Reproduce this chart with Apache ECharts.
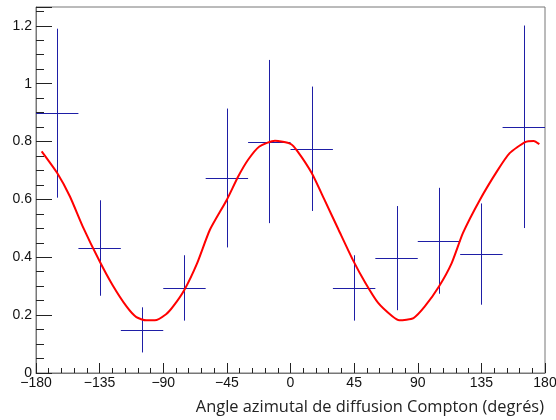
<!DOCTYPE html>
<html>
<head>
<meta charset="utf-8">
<script src="https://cdn.jsdelivr.net/npm/echarts@6/dist/echarts.min.js"></script>
<style>
  html, body { margin: 0; padding: 0; background: #fff; }
  #chart { width: 556px; height: 420px; }
</style>
</head>
<body>
<div id="chart"></div>
<script>
// centres des bins (degrés) et contenu mesuré
const binCenters = [-165, -135, -105, -75, -45, -15, 15, 45, 75, 105, 135, 165];
const binValues = [0.898, 0.432, 0.149, 0.294, 0.674, 0.800, 0.775, 0.294, 0.397, 0.457, 0.411, 0.851];
const binErrors = [0.292, 0.165, 0.078, 0.113, 0.240, 0.282, 0.215, 0.113, 0.180, 0.183, 0.175, 0.350];
const binHalfWidth = 15;

// courbe d'ajustement
const fitX = [-176, -165, -156, -147, -135, -126, -116, -109, -102, -96, -88, -83, -75, -66, -57, -45, -37, -30, -22, -11,
  0, 5, 15, 24, 34, 44, 53, 62, 72, 77, 87, 95, 105, 114, 122, 134, 146, 155, 166, 172, 176];
const fitY = [0.766, 0.691, 0.610, 0.507, 0.386, 0.305, 0.230, 0.193, 0.182, 0.182, 0.203, 0.230, 0.288, 0.380, 0.495, 0.599, 0.679, 0.737, 0.783, 0.803,
  0.792, 0.766, 0.691, 0.599, 0.495, 0.392, 0.311, 0.242, 0.196, 0.182, 0.190, 0.230, 0.299, 0.380, 0.484, 0.599, 0.697, 0.760, 0.798, 0.802, 0.791];

const xTicks = { min: -180, max: 180, step: 45 };
const yTicks = { min: 0, max: 1.265, step: 0.2 };

const chart = echarts.init(document.getElementById('chart'), null, { renderer: 'canvas' });

const barData = binCenters.map((x, i) => [x, binValues[i], binErrors[i]]);
const fitData = fitX.map((x, i) => [x, fitY[i]]);

// aligne sur le demi-pixel pour des traits nets
const snap = v => Math.round(v) + 0.5;

function renderCross(params, api) {
  const x = api.value(0), y = api.value(1), e = api.value(2);
  const pTop = api.coord([x, y + e]);
  const pBot = api.coord([x, y - e]);
  const pL = api.coord([x - binHalfWidth, y]);
  const pR = api.coord([x + binHalfWidth, y]);
  const cx = snap(pTop[0]), cy = snap(pL[1]);
  const style = { stroke: '#1e1ea6', lineWidth: 1 };
  return {
    type: 'group',
    children: [
      { type: 'line', shape: { x1: cx, y1: pTop[1], x2: cx, y2: pBot[1] }, style: style },
      { type: 'line', shape: { x1: pL[0], y1: cy, x2: pR[0], y2: cy }, style: style }
    ]
  };
}

const minus = v => String(v).replace('-', '\u2212');

const option = {
  backgroundColor: '#fff',
  animation: false,
  title: {
    text: 'Angle azimutal de diffusion Compton (degrés)',
    right: 7,
    top: 394,
    textStyle: { fontFamily: 'Open Sans', fontSize: 16.4, fontWeight: 'normal', color: '#222' }
  },
  grid: {
    left: 36, right: 11, top: 7, bottom: 47,
    outerBoundsMode: 'none',
    show: true, borderColor: '#777', borderWidth: 1, backgroundColor: '#fff'
  },
  xAxis: {
    type: 'value',
    min: xTicks.min, max: xTicks.max, interval: xTicks.step,
    axisLine: { show: true, onZero: false, lineStyle: { color: '#777' } },
    axisTick: { show: true, inside: true, length: 10, lineStyle: { color: '#222' } },
    minorTick: { show: true, splitNumber: 5, length: 5, lineStyle: { color: '#222' } },
    splitLine: { show: false },
    axisLabel: { margin: 3, fontFamily: 'Liberation Sans', fontSize: 14, color: '#111', formatter: minus, hideOverlap: false }
  },
  yAxis: {
    type: 'value',
    min: yTicks.min, max: yTicks.max, interval: yTicks.step,
    axisLine: { show: true, onZero: false, lineStyle: { color: '#777' } },
    axisTick: { show: true, inside: true, length: 16, lineStyle: { color: '#222' } },
    minorTick: { show: true, splitNumber: 4, length: 8, lineStyle: { color: '#222' } },
    splitLine: { show: false },
    axisLabel: { margin: 4, fontFamily: 'Liberation Sans', fontSize: 14, color: '#111', showMaxLabel: false }
  },
  series: [
    {
      type: 'custom',
      renderItem: renderCross,
      data: barData,
      encode: { x: 0, y: 1 },
      clip: false,
      z: 2
    },
    {
      type: 'line',
      data: fitData,
      smooth: 0.2,
      showSymbol: false,
      lineStyle: { color: '#ff0000', width: 2 },
      z: 3
    }
  ]
};

chart.setOption(option);
</script>
</body>
</html>
